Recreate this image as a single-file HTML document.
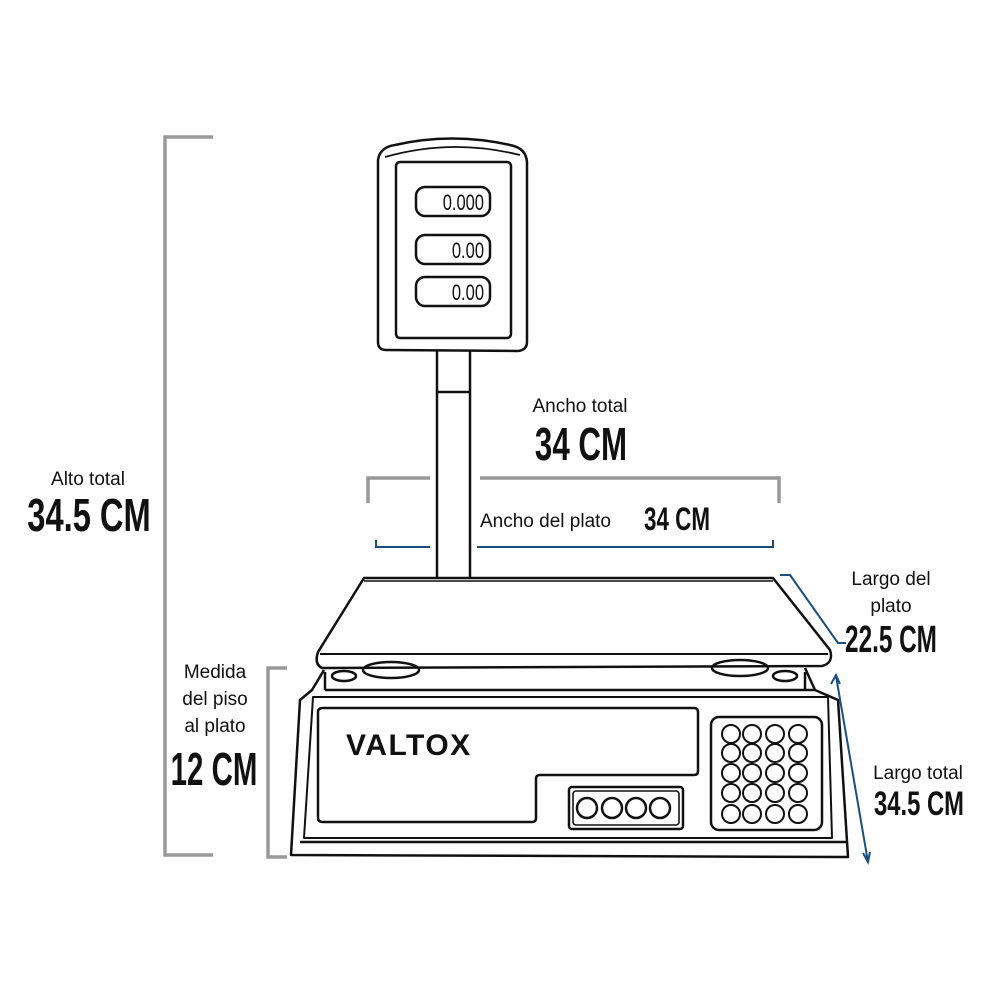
<!DOCTYPE html>
<html><head><meta charset="utf-8"><style>
html,body{margin:0;padding:0;background:#fff;width:1000px;height:1000px;overflow:hidden}
svg{display:block}
.t{font-family:"Liberation Sans",sans-serif;font-size:19px;fill:#111}
.b{font-family:"Liberation Sans",sans-serif;font-weight:bold;fill:#111}
</style></head><body>
<svg width="1000" height="1000" viewBox="0 0 1000 1000" xmlns="http://www.w3.org/2000/svg">
<g fill="none" stroke="#111" stroke-width="2.5" stroke-linejoin="round">
<!-- display head -->
<path d="M378,160 Q380,147 395,145 Q452,132 510,145 Q526,148 527,162 L527,342 Q527,350 518,351 L386,350 Q378,350 378,342 Z"/>
<path d="M385,157 Q452,138 520,155" stroke-width="1.8"/>
<rect x="396" y="162" width="115" height="176" rx="4"/>
<rect x="416" y="187" width="74" height="29" rx="9"/>
<rect x="416" y="235" width="74" height="29" rx="9"/>
<rect x="416" y="277" width="74" height="29" rx="9"/>
<path d="M437,351 L437,578 M470,351 L470,578 M437,392 L470,392"/>
<!-- plate -->
<path d="M364,578 L773,578 L830,650 Q834,663 822,666 L322,668 Q314,664 318,652 Z"/>
<path d="M364,581 L773,581" stroke-width="1.5"/>
<path d="M320,654 L828,654" stroke-width="2"/>
<!-- base -->
<path d="M324,670 L312,690 L300,700 L291,855 L848,857 L838,700 L815,690 L805,668"/>
<path d="M325,690 L815,690 M325,690 L325,672 M805,690 L805,672"/>
<ellipse cx="344" cy="676" rx="12" ry="5"/>
<ellipse cx="391" cy="670" rx="28" ry="8"/>
<ellipse cx="740" cy="668" rx="28" ry="8"/>
<ellipse cx="785" cy="676" rx="12" ry="5"/>
<path d="M313,697 L828,697 L832,838 L304,838 Z" stroke-width="2"/>
<path d="M300,842 L846,842"/>
<path d="M323,708 L694,708 Q698,708 698,712 L698,771 Q698,775 694,775 L540,775 Q536,775 536,779 L536,818 Q536,822 532,822 L323,822 Q318,822 318,818 L318,712 Q318,708 323,708 Z"/>
<rect x="569" y="787" width="114" height="42" rx="3"/>
<rect x="573" y="791" width="106" height="34" rx="3" stroke-width="1.6"/>
<circle cx="587" cy="808" r="10"/><circle cx="612" cy="808" r="10"/><circle cx="636" cy="808" r="10"/><circle cx="660" cy="808" r="10"/>
<rect x="711" y="717" width="111" height="113" rx="8"/>
<g stroke-width="2">
<circle cx="731" cy="734" r="9"/><circle cx="752" cy="734" r="9"/><circle cx="775" cy="734" r="9"/><circle cx="798" cy="734" r="9"/>
<circle cx="731" cy="753" r="9"/><circle cx="752" cy="753" r="9"/><circle cx="775" cy="753" r="9"/><circle cx="798" cy="753" r="9"/>
<circle cx="731" cy="773" r="9"/><circle cx="752" cy="773" r="9"/><circle cx="775" cy="773" r="9"/><circle cx="798" cy="773" r="9"/>
<circle cx="731" cy="793" r="9"/><circle cx="752" cy="793" r="9"/><circle cx="775" cy="793" r="9"/><circle cx="798" cy="793" r="9"/>
<circle cx="731" cy="814" r="9"/><circle cx="752" cy="814" r="9"/><circle cx="775" cy="814" r="9"/><circle cx="798" cy="814" r="9"/>
</g>
</g>
<!-- readouts -->
<g class="b" style="font-size:22px;font-weight:normal" text-anchor="end">
<text x="484" y="210" transform="translate(484 0) scale(0.75 1) translate(-484 0)">0.000</text>
<text x="484" y="258" transform="translate(484 0) scale(0.75 1) translate(-484 0)">0.00</text>
<text x="484" y="300" transform="translate(484 0) scale(0.75 1) translate(-484 0)">0.00</text>
</g>
<text x="346" y="755" class="b" style="font-size:30px;letter-spacing:1.5px">VALTOX</text>
<!-- dimension brackets -->
<g fill="none" stroke="#999" stroke-width="3.5">
<path d="M213,137 L165,137 L165,855 L213,855"/>
<path d="M287,668 L268,668 L268,857 L287,857"/>
<path d="M368,503 L368,478 L430,478 M480,478 L779,478 L779,503"/>
</g>
<g fill="none" stroke="#1a4d80" stroke-width="2">
<path d="M376,540 L376,547 L430,547 M477,547 L773,547 L773,540"/>
<path d="M780,575 L790,575 L838,643 L846,643"/>
<path d="M836,676 L868,862"/>
<path d="M831,684 L836,675 L840,684 M863,853 L868,862 L870,852"/>
</g>
<!-- labels -->
<text x="88" y="485" class="t" text-anchor="middle">Alto total</text>
<text x="89" y="531" class="b" style="font-size:46px" text-anchor="middle" transform="translate(89 0) scale(0.71 1) translate(-89 0)">34.5 CM</text>
<text x="580" y="412" class="t" text-anchor="middle">Ancho total</text>
<text x="581" y="460" class="b" style="font-size:46px" text-anchor="middle" transform="translate(581 0) scale(0.68 1) translate(-581 0)">34 CM</text>
<text x="480" y="527" class="t">Ancho del plato</text>
<text x="677" y="530" class="b" style="font-size:32px" text-anchor="middle" transform="translate(677 0) scale(0.7 1) translate(-677 0)">34 CM</text>
<text x="891" y="585" class="t" text-anchor="middle">Largo del</text>
<text x="891" y="612" class="t" text-anchor="middle">plato</text>
<text x="891" y="652" class="b" style="font-size:38px" text-anchor="middle" transform="translate(891 0) scale(0.64 1) translate(-891 0)">22.5 CM</text>
<text x="215" y="678" class="t" text-anchor="middle">Medida</text>
<text x="215" y="705" class="t" text-anchor="middle">del piso</text>
<text x="215" y="732" class="t" text-anchor="middle">al plato</text>
<text x="214" y="785" class="b" style="font-size:46px" text-anchor="middle" transform="translate(214 0) scale(0.64 1) translate(-214 0)">12 CM</text>
<text x="918" y="779" class="t" text-anchor="middle">Largo total</text>
<text x="919" y="815" class="b" style="font-size:34px" text-anchor="middle" transform="translate(919 0) scale(0.7 1) translate(-919 0)">34.5 CM</text>
</svg>
</body></html>
